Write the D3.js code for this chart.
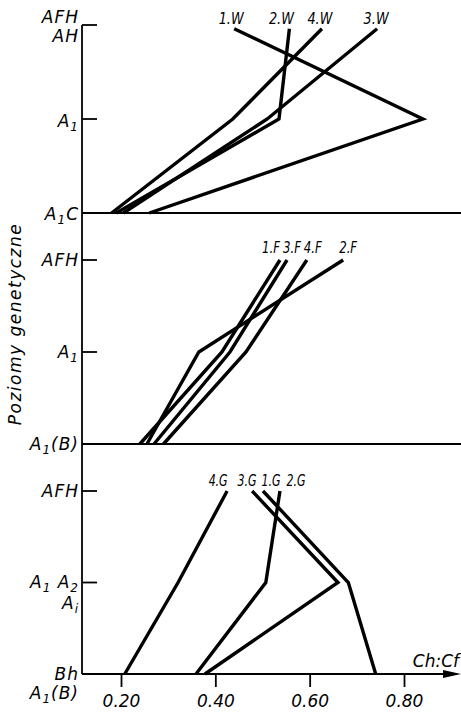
<!DOCTYPE html>
<html>
<head>
<meta charset="utf-8">
<script src="https://cdn.jsdelivr.net/npm/d3@7"></script>
<style>
    body { margin: 0; background: #fff; }
    svg { display: block; }
    text { font-family: "DejaVu Sans", sans-serif; font-style: italic; fill: #000; }
</style>
</head>
<body>
<div id="chart"></div>
<script>
// Ch:Cf ratio by genetic horizon, three groups of profiles (W, F, G)
const xTicks = [0.20, 0.40, 0.60, 0.80];

// horizon position of each point: 0 = top horizon, 1 = middle, 2 = bottom
const levelsW = [0.04, 1, 2];   // AH sits just under the AFH tick
const levelsF = [0, 1, 2];
const levelsG = [0, 1, 2];

const namesW = ["1.W", "2.W", "4.W", "3.W"];
const w1 = [0.44, 0.84, 0.26];
const w2 = [0.557, 0.535, 0.19];
const w4 = [0.626, 0.437, 0.18];
const w3 = [0.743, 0.51, 0.205];

const namesF = ["1.F", "3.F", "4.F", "2.F"];
const f1 = [0.537, 0.414, 0.24];
const f3 = [0.552, 0.431, 0.27];
const f4 = [0.594, 0.465, 0.29];
const f2 = [0.671, 0.365, 0.255];

const namesG = ["4.G", "3.G", "1.G", "2.G"];
const g4 = [0.425, 0.321, 0.208];
const g3 = [0.478, 0.66, 0.378];
const g1 = [0.501, 0.682, 0.74];
const g2 = [0.537, 0.507, 0.359];

// horizon labels on the left, "_" marks a subscript character
const horizonsW = [["AFH", "AH"], ["A_1"], ["A_1C"]];
const horizonsF = [["AFH"], ["A_1"], ["A_1(B)"]];
const horizonsG = [["AFH"], ["A_1 A_2", "A_i"], ["Bh", "A_1(B)"]];

const width = 461, height = 712;
const axisX = 82;

const panels = [
    {top: 25, bottom: 213, levels: levelsW, series: [w1, w2, w4, w3], names: namesW,
        nudge: [-3, -8, -2, -1], labelW: 25, labelY: 24, horizons: horizonsW, hy: [[23, 42], [127], [220]]},
    {top: 260, bottom: 444, levels: levelsF, series: [f1, f3, f4, f2], names: namesF,
        nudge: [-9, 5, 6, 5], labelW: 18, labelY: 253, horizons: horizonsF, hy: [[266], [358], [450]]},
    {top: 491, bottom: 674, levels: levelsG, series: [g4, g3, g1, g2], names: namesG,
        nudge: [-9, -5, 8, 16], labelW: 19, labelY: 486, horizons: horizonsG, hy: [[497], [588, 609], [680, 699]]}
];

const x = d3.scaleLinear().domain([0.2, 0.8]).range([121, 404]);

const svg = d3.select("#chart").append("svg")
    .attr("width", width)
    .attr("height", height);

function addLabel(g, str, xPos, yPos, anchor) {
    const t = g.append("text")
        .attr("x", xPos)
        .attr("y", yPos)
        .attr("text-anchor", anchor)
        .style("font-size", "17px")
        .style("letter-spacing", "1px");
    let i = 0, shifted = false;
    while (i < str.length) {
        if (str[i] === "_") {
            t.append("tspan").attr("dy", 4).style("font-size", "12px").text(str[i + 1]);
            shifted = true;
            i += 2;
        } else {
            let j = i;
            while (j < str.length && str[j] !== "_") j++;
            const s = t.append("tspan").text(str.slice(i, j));
            if (shifted) { s.attr("dy", -4); shifted = false; }
            i = j;
        }
    }
    return t;
}

// vertical axis through all panels
svg.append("line")
    .attr("x1", axisX).attr("x2", axisX)
    .attr("y1", panels[0].top).attr("y2", panels[2].bottom)
    .attr("stroke", "#000").attr("stroke-width", 1.8);

const line = d3.line();

panels.forEach((p, pi) => {
    const y = d3.scaleLinear().domain([0, 2]).range([p.top, p.bottom]);
    const g = svg.append("g");

    // inner ticks for the two upper horizons
    [0, 1].forEach(l => {
        g.append("line")
            .attr("x1", axisX).attr("x2", axisX + 15)
            .attr("y1", y(l)).attr("y2", y(l))
            .attr("stroke", "#000").attr("stroke-width", 1.8);
    });

    // bottom horizon line
    g.append("line")
        .attr("x1", axisX).attr("x2", pi === 2 ? 446 : width)
        .attr("y1", y(2)).attr("y2", y(2))
        .attr("stroke", "#000").attr("stroke-width", 1.8);

    // horizon names
    p.horizons.forEach((rows, li) => {
        rows.forEach((r, ri) => addLabel(g, r, 79, p.hy[li][ri], "end"));
    });

    // profile lines
    p.series.forEach((s, si) => {
        const pts = s.map((v, k) => [x(v), y(p.levels[k])]);
        g.append("path")
            .attr("d", line(pts))
            .attr("fill", "none")
            .attr("stroke", "#000")
            .attr("stroke-width", 3.4)
            .attr("stroke-linejoin", "miter");

        g.append("text")
            .attr("x", x(s[0]) + p.nudge[si])
            .attr("y", p.labelY)
            .attr("text-anchor", "middle")
            .attr("textLength", p.labelW)
            .attr("lengthAdjust", "spacingAndGlyphs")
            .style("font-size", "16px")
            .text(p.names[si]);
    });
});

// x axis at the bottom of the last panel
const xAxis = d3.axisBottom(x)
    .tickValues(xTicks)
    .tickFormat(d3.format(".2f"))
    .tickSize(13)
    .tickPadding(8);

const axisG = svg.append("g")
    .attr("transform", `translate(0,${panels[2].bottom})`)
    .call(xAxis);
axisG.select(".domain").remove();
axisG.selectAll(".tick line").attr("stroke", "#000").attr("stroke-width", 1.8);
axisG.selectAll(".tick text")
    .attr("fill", "#000")
    .style("font-family", "DejaVu Sans, sans-serif")
    .style("font-style", "italic")
    .style("font-size", "17px");

// arrow head
const yb = panels[2].bottom;
svg.append("path")
    .attr("d", `M443,${yb - 4}L461,${yb}L443,${yb + 4}Z`)
    .attr("fill", "#000");

svg.append("text")
    .attr("x", 459).attr("y", 667)
    .attr("text-anchor", "end")
    .style("font-size", "17px")
    .text("Ch:Cf");

svg.append("text")
    .attr("transform", "translate(21,324) rotate(-90)")
    .attr("text-anchor", "middle")
    .style("font-size", "17px")
    .style("letter-spacing", "1.5px")
    .text("Poziomy genetyczne");
</script>
</body>
</html>
